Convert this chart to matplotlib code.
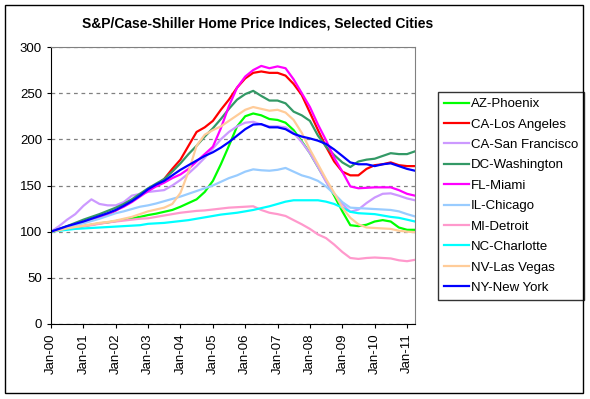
import pandas as pd
import matplotlib
matplotlib.use('Agg')
import matplotlib.pyplot as plt
import matplotlib.dates as mdates
from matplotlib.patches import Rectangle

plt.rcParams['font.family'] = ['Liberation Sans', 'DejaVu Sans']

# quarterly readings, Jan 2000 .. Apr 2011
dates = pd.date_range('2000-01-01', '2011-04-01', freq='QS')

phoenix = [100, 101.5, 103, 104.5, 106, 107.5, 109, 110, 111.5, 113, 114.5, 116,
           118, 119.5, 121.5, 123.5, 127, 131, 135, 143, 155, 173, 193, 214,
           225, 228, 226, 222, 221, 218, 210, 198, 185, 170, 155, 139,
           122, 107, 106, 107.5, 111, 112.5, 111, 104.5, 102, 102]
los_angeles = [100, 102.5, 105.5, 108, 110.5, 113, 115.5, 118, 123, 128, 133, 139,
               145, 150, 157, 168, 178, 193, 208, 213, 220, 232, 243, 256,
               266, 272, 273.5, 272, 272, 269, 260, 248, 229, 210, 192, 176,
               165, 161, 161, 168, 172, 173, 175, 172, 171, 171]
san_francisco = [100, 106, 113, 119, 128, 135, 130, 128.5, 128.5, 132, 139, 141,
                 143, 144, 145, 150, 156, 163, 171, 180, 190, 200, 208, 214,
                 218, 219, 216, 214, 214, 213, 207, 197, 185, 170, 154, 141,
                 130, 121.5, 124, 131, 137, 141, 141.5, 139, 136, 134]
washington = [100, 103, 106, 109.5, 113, 116, 119, 122.5, 126, 130, 135, 141,
              147, 152, 157, 165, 174, 184, 193, 203, 212, 222, 233, 243,
              249, 252.5, 247, 242, 242, 239, 230, 226, 220, 204, 192, 183,
              175, 170, 176, 178, 179, 182, 185, 184, 184, 187]
miami = [100, 102.5, 105, 108, 110.5, 113, 116, 119, 123, 127, 132, 138,
         144, 149, 153, 158, 162, 168, 176, 184, 192, 212, 236, 256,
         268, 275, 279.5, 277, 279, 277, 265, 250, 235, 216, 199, 180,
         165, 149, 147, 147.5, 148, 148, 148, 145, 141, 139]
chicago = [100, 102, 104.5, 107, 109, 111.5, 114, 117, 120, 122, 124.5, 127,
           128.5, 130.5, 133, 135.5, 138, 141, 144, 147, 150, 154, 158, 161,
           165, 167.5, 166.5, 166, 167, 169, 165, 161, 158.5, 155, 149, 141,
           132, 126, 125.5, 125, 124.5, 124, 123.5, 122, 119, 116.5]
detroit = [100, 101.5, 103, 104.5, 106, 107, 108.5, 110, 111, 112, 113, 114,
           114.5, 116, 117.5, 119, 120.5, 121.5, 122.5, 123, 124, 125, 126, 126.5,
           127, 127.5, 123.5, 120.5, 119, 117, 112.5, 108, 103, 97, 93, 86,
           78, 71.5, 70.5, 71.5, 72, 71.5, 71, 69, 68, 69.5]
charlotte = [100, 101, 102, 103, 103.5, 104, 104.5, 105, 105.5, 106, 106.5, 107,
             108.5, 109, 109.5, 110.5, 111.5, 112.5, 114, 115.5, 117, 118.5, 119.5, 120.5,
             122, 123.5, 125.5, 127.5, 130, 132.5, 134, 134, 134, 134, 132.5, 130,
             126, 121.5, 120, 119.5, 119, 117.5, 116, 115, 113, 111]
las_vegas = [100, 101.5, 103.5, 105, 106.5, 108, 109.5, 110.5, 112, 114, 116, 119,
             122, 124, 126, 130, 142, 165, 193, 205, 210, 214, 220, 226,
             232, 235, 233, 231, 232, 229, 221, 207, 189, 173, 157, 142,
             126, 115, 108, 104.5, 104, 103.5, 103, 101, 100, 99.5]
new_york = [100, 103, 106, 108.5, 111, 114, 117, 120, 123.5, 128, 133, 139,
            146, 151, 155, 161, 167, 172, 177, 182, 186, 191, 197, 204,
            211, 216, 216.5, 213, 213, 211, 206, 203, 201, 198.5, 195, 189,
            182, 175, 173, 173, 171, 173, 174, 171, 168, 166]

names = ['AZ-Phoenix', 'CA-Los Angeles', 'CA-San Francisco', 'DC-Washington',
         'FL-Miami', 'IL-Chicago', 'MI-Detroit', 'NC-Charlotte', 'NV-Las Vegas',
         'NY-New York']
series = [phoenix, los_angeles, san_francisco, washington, miami, chicago,
          detroit, charlotte, las_vegas, new_york]
colors = ['#00FF00', '#FF0000', '#CC99FF', '#339966', '#FF00FF', '#99CCFF',
          '#FF99CC', '#00FFFF', '#FFCC99', '#0000FF']

fig = plt.figure(figsize=(5.9, 3.99), dpi=100)
ax = fig.add_axes([51/590, 1 - 324/399, (415 - 51)/590, (324 - 47)/399])

for vals, name, c in zip(series, names, colors):
    ax.plot(dates, vals, color=c, lw=1.6, label=name)

ax.set_ylim(0, 300)
ax.set_yticks(range(0, 301, 50))
ax.set_xlim(dates[0], dates[-1])
ax.xaxis.set_major_locator(mdates.YearLocator())
ax.xaxis.set_major_formatter(mdates.DateFormatter('%b-%y'))
plt.setp(ax.get_xticklabels(), rotation=90)
ax.tick_params(labelsize=9.5, length=3, direction='out', colors='black')
ax.yaxis.grid(True, ls=(0, (3, 3)), color='#808080', lw=0.9)
ax.set_axisbelow(True)
for s in ['top', 'right']:
    ax.spines[s].set_color('#808080')
for s in ['left', 'bottom']:
    ax.spines[s].set_color('black')

fig.text(258/590, 1 - 23/399, 'S&P/Case-Shiller Home Price Indices, Selected Cities',
         ha='center', va='center', fontsize=10, fontweight='bold')

leg = ax.legend(loc='upper left', bbox_to_anchor=(438/590, 1 - 92/399),
                bbox_transform=fig.transFigure, fontsize=9.5, frameon=True,
                fancybox=False, edgecolor='black', handlelength=1.9,
                handletextpad=0.15, labelspacing=0.62, borderpad=0.45,
                borderaxespad=0)
leg.get_frame().set_linewidth(1)

fig.patches.append(Rectangle((5/590, 1 - 393/399), 578/590, 388/399,
                             transform=fig.transFigure, fill=False,
                             edgecolor='black', lw=1))

fig.savefig('out.png', dpi=100)
